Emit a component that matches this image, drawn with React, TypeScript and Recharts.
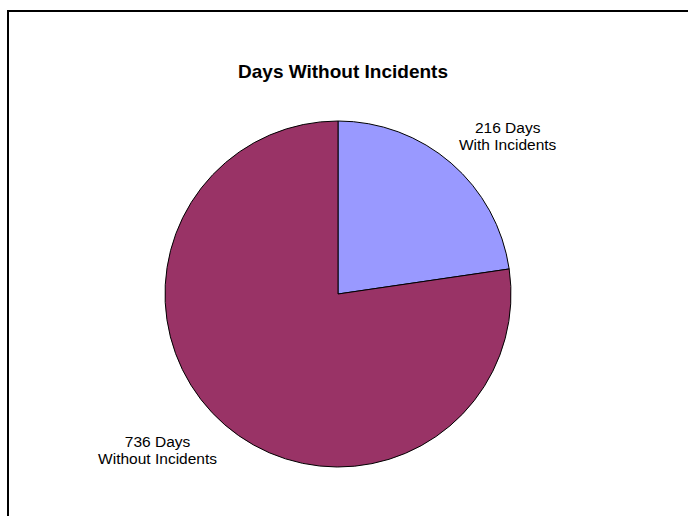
import { PieChart, Pie, Cell } from 'recharts';

const categorias = ['With Incidents', 'Without Incidents'];
const dias = [216, 736];
const cores = ['#9999FF', '#993366'];

const dados = categorias.map((nome, i) => ({ nome, valor: dias[i] }));

const FONTE = '"Liberation Sans", Arial, Helvetica, sans-serif';
const TAM_ROTULO = 15.5;
const ALTURA_LINHA = 17;

let ctxMedida: CanvasRenderingContext2D | null = null;
function larguraTexto(texto: string) {
  if (!ctxMedida) ctxMedida = document.createElement('canvas').getContext('2d');
  if (!ctxMedida) return texto.length * 7.5;
  ctxMedida.font = `${TAM_ROTULO}px ${FONTE}`;
  return ctxMedida.measureText(texto).width;
}

// rótulo em duas linhas: a caixa encosta pelo canto mais próximo no raio do meio da fatia
const renderRotulo = (props: any) => {
  const { cx, cy, midAngle, outerRadius, payload, value } = props;
  const RAD = Math.PI / 180;
  const r = outerRadius + 12;
  const px = cx + r * Math.cos(-midAngle * RAD);
  const py = cy + r * Math.sin(-midAngle * RAD);
  const linhas = [`${value} Days`, payload.nome];
  const w = Math.max(...linhas.map(larguraTexto));
  const h = linhas.length * ALTURA_LINHA;
  const esquerda = px >= cx ? px : px - w;
  const topo = py <= cy ? py - h : py;
  const centroX = esquerda + w / 2;
  return (
    <g>
      {linhas.map((linha, i) => (
        <text
          key={i}
          x={centroX}
          y={topo + i * ALTURA_LINHA + 13}
          textAnchor="middle"
          fontFamily={FONTE}
          fontSize={TAM_ROTULO}
          fill="#000"
        >
          {linha}
        </text>
      ))}
    </g>
  );
};

export default function App() {
  return (
    <div
      style={{
        position: 'fixed',
        left: 0,
        top: 0,
        width: 688,
        height: 516,
        background: '#fff',
        overflow: 'hidden',
      }}
    >
      <div
        style={{
          position: 'absolute',
          left: 7,
          top: 10,
          width: 720,
          height: 540,
          border: '2px solid #000',
        }}
      />
      <div
        style={{
          position: 'absolute',
          left: 0,
          top: 60,
          width: 686,
          textAlign: 'center',
          fontFamily: FONTE,
          fontWeight: 'bold',
          fontSize: 19,
          lineHeight: '24px',
          color: '#000',
        }}
      >
        Days Without Incidents
      </div>
      <div style={{ position: 'absolute', left: 0, top: 0 }}>
        <PieChart width={688} height={516} margin={{ top: 0, right: 0, bottom: 0, left: 0 }}>
          <Pie
            data={dados}
            dataKey="valor"
            nameKey="nome"
            cx={338}
            cy={294}
            outerRadius={173}
            startAngle={90}
            endAngle={-270}
            stroke="#000"
            strokeWidth={1}
            label={renderRotulo}
            labelLine={false}
            isAnimationActive={false}
          >
            {dados.map((_, i) => (
              <Cell key={`cell-${i}`} fill={cores[i]} />
            ))}
          </Pie>
        </PieChart>
      </div>
    </div>
  );
}
